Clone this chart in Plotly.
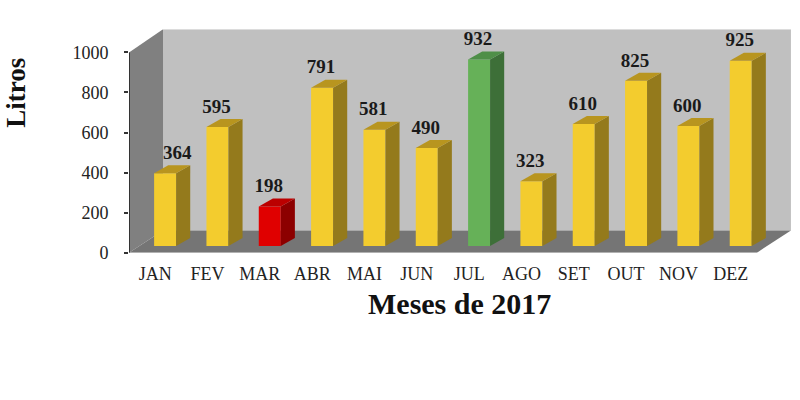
import plotly.graph_objects as go

months = ["JAN", "FEV", "MAR", "ABR", "MAI", "JUN", "JUL", "AGO", "SET", "OUT", "NOV", "DEZ"]
litros = [364, 595, 198, 791, 581, 490, 932, 323, 610, 825, 600, 925]
front_colors = ["#f3cc2e", "#f3cc2e", "#e00000", "#f3cc2e", "#f3cc2e", "#f3cc2e",
                "#66b158", "#f3cc2e", "#f3cc2e", "#f3cc2e", "#f3cc2e", "#f3cc2e"]
side_colors = ["#947a1c", "#947a1c", "#8c0000", "#947a1c", "#947a1c", "#947a1c",
               "#3d6f38", "#947a1c", "#947a1c", "#947a1c", "#947a1c", "#947a1c"]
top_colors = ["#b8951f", "#b8951f", "#bb0000", "#b8951f", "#b8951f", "#b8951f",
              "#4f8f48", "#b8951f", "#b8951f", "#b8951f", "#b8951f", "#b8951f"]

FONT = "Liberation Serif"
# depth of the 3D look, in axis units
WALL_DX, WALL_DY = 0.65, 111
BAR_DX, BAR_DY = 0.27, 40
BAR_W, BAR_SHIFT, BAR_BASE = 0.42, 0.19, 33
X0, X1 = -0.5, 11.5
Y_TOP = 1000
H = 387  # effective plot height

fig = go.Figure()
xs = [i + BAR_SHIFT for i in range(len(months))]

fig.add_trace(go.Bar(x=xs, y=litros, base=BAR_BASE, width=BAR_W,
                     marker=dict(color=front_colors, line=dict(width=0)),
                     showlegend=False, hoverinfo="skip"))

for x, v, sc, tc in zip(xs, litros, side_colors, top_colors):
    l, r, b, t = x - BAR_W / 2, x + BAR_W / 2, BAR_BASE, BAR_BASE + v
    fig.add_trace(go.Scatter(x=[r, r + BAR_DX, r + BAR_DX, r, r],
                             y=[b, b + BAR_DY, t + BAR_DY, t, b],
                             mode="lines", fill="toself", fillcolor=sc,
                             line=dict(width=0), showlegend=False, hoverinfo="skip"))
    fig.add_trace(go.Scatter(x=[l, r, r + BAR_DX, l + BAR_DX, l],
                             y=[t, t, t + BAR_DY, t + BAR_DY, t],
                             mode="lines", fill="toself", fillcolor=tc,
                             line=dict(width=0), showlegend=False, hoverinfo="skip"))

# the JAN label sits further right than the others
fig.add_trace(go.Scatter(x=[x + (0.23 if i == 0 else -0.02) for i, x in enumerate(xs)],
                         y=[v + BAR_BASE + BAR_DY + 8 for v in litros],
                         text=[str(v) for v in litros],
                         mode="text", textposition="top center",
                         textfont=dict(family=FONT, size=19, color="#1a1a1a", weight="bold"),
                         showlegend=False, hoverinfo="skip", cliponaxis=False))

fig.add_trace(go.Scatter(x=[X0, X0], y=[0, Y_TOP], mode="lines",
                         line=dict(color="#333333", width=2),
                         showlegend=False, hoverinfo="skip"))


def poly(pts, color):
    path = "M " + " L ".join(f"{x},{y}" for x, y in pts) + " Z"
    return dict(type="path", path=path, fillcolor=color, line=dict(width=0), layer="below")


wall_top = Y_TOP + WALL_DY + 5
fig.update_layout(
    width=800, height=400, margin=dict(l=0, r=0, t=0, b=0),
    paper_bgcolor="white", plot_bgcolor="white", showlegend=False,
    shapes=[
        poly([(X0 + WALL_DX, WALL_DY), (X1 + WALL_DX, WALL_DY),
              (X1 + WALL_DX, wall_top), (X0 + WALL_DX, wall_top)], "#c0c0c0"),
        poly([(X0, 0), (X0 + WALL_DX, WALL_DY), (X0 + WALL_DX, wall_top), (X0, Y_TOP)], "#808080"),
        poly([(X0, 0), (X1, 0), (X1 + WALL_DX, WALL_DY), (X0 + WALL_DX, WALL_DY)], "#757575"),
    ],
    xaxis=dict(domain=[129 / 800, 792 / 800], range=[X0, X1 + WALL_DX + 0.02],
               tickmode="array", tickvals=list(range(12)), ticktext=months,
               showgrid=False, zeroline=False, showline=False,
               ticks="outside", ticklen=5, tickcolor="rgba(0,0,0,0)",
               tickfont=dict(family=FONT, size=18, color="#222222")),
    yaxis=dict(domain=[1 - 250.7 / H, 1 - 29 / H], range=[0, wall_top],
               tickmode="array", tickvals=[0, 200, 400, 600, 800, 1000],
               showgrid=False, zeroline=False, showline=False,
               ticks="outside", ticklen=4, tickwidth=2, tickcolor="#333333",
               ticklabelstandoff=12,
               tickfont=dict(family=FONT, size=18, color="#222222")),
    annotations=[
        dict(text="<b>Litros</b>", xref="paper", yref="paper", x=16 / 800, y=1 - 92 / H,
             textangle=-90, showarrow=False, xanchor="center", yanchor="middle",
             font=dict(family=FONT, size=27, color="#111111")),
        dict(text="<b>Meses de 2017</b>", xref="paper", yref="paper", x=460 / 800, y=1 - 301 / H,
             showarrow=False, xanchor="center", yanchor="middle",
             font=dict(family=FONT, size=30, color="#111111")),
    ],
)
fig.write_html("out.html", config={"displayModeBar": False},
               post_script="document.body.style.margin='0';")
